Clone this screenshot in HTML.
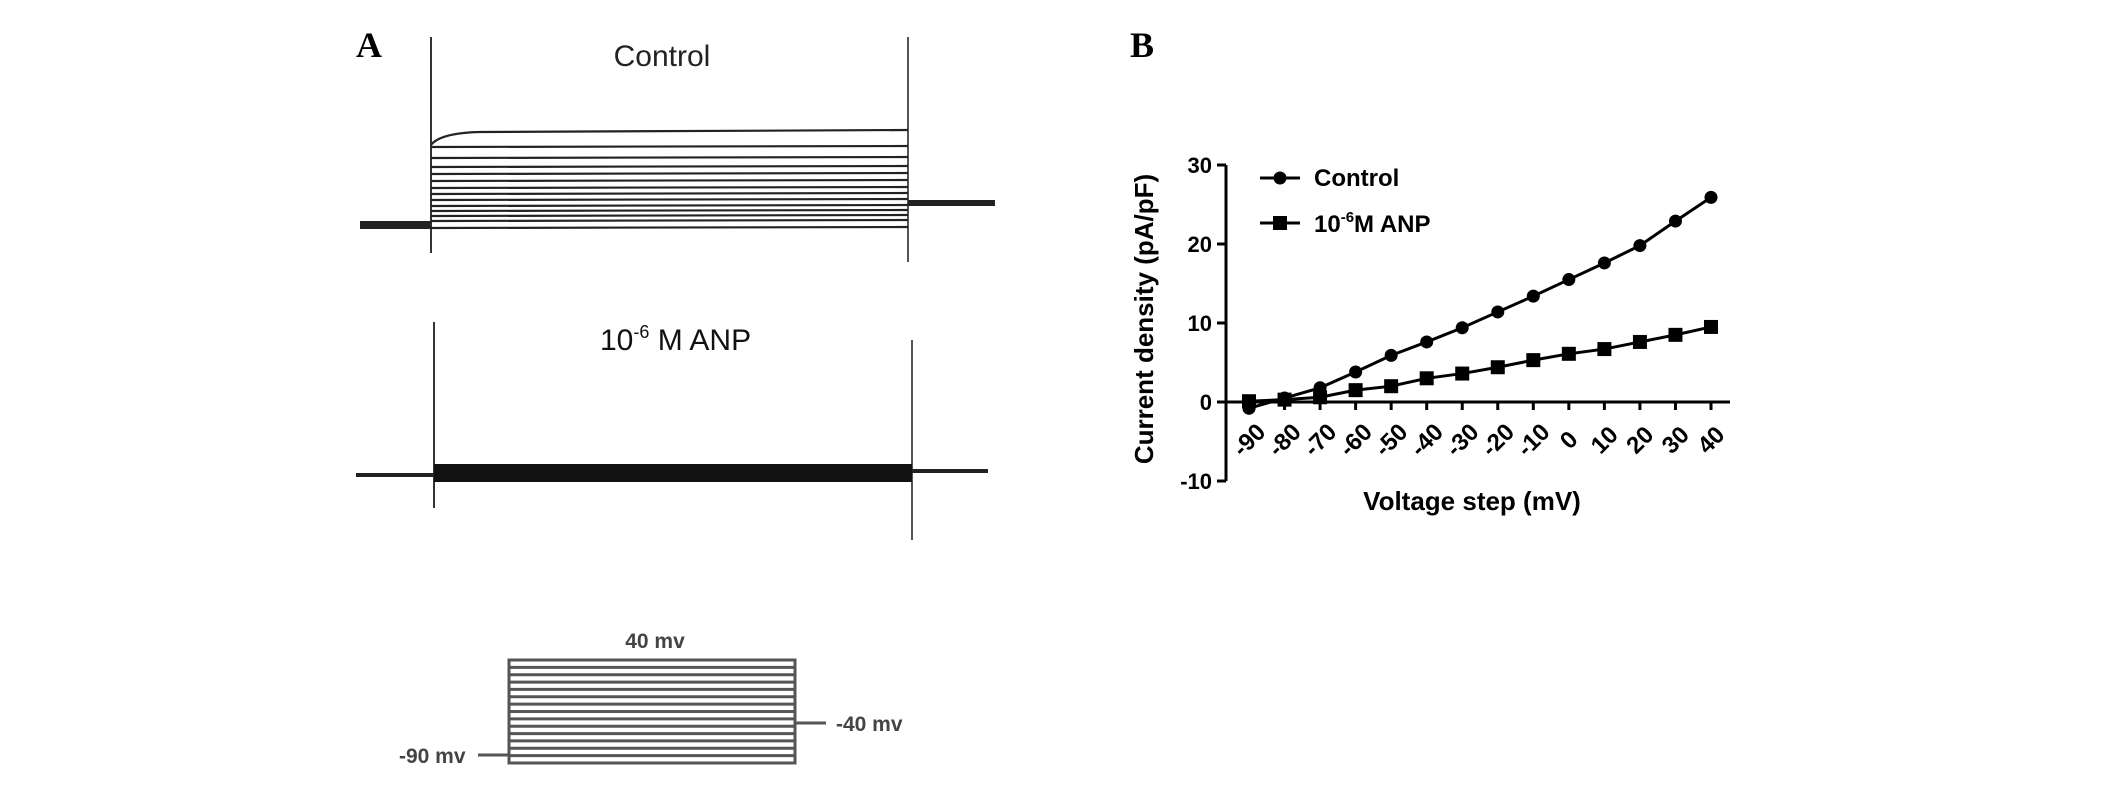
<!DOCTYPE html>
<html><head><meta charset="utf-8"><style>
html,body{margin:0;padding:0;background:#fff;}
svg{display:block;font-family:"Liberation Sans",sans-serif;}
</style></head><body>
<svg id="fig" width="2126" height="789" viewBox="0 0 2126 789" xmlns="http://www.w3.org/2000/svg">
<text x="356" y="57" font-family="Liberation Serif,serif" font-weight="bold" font-size="36">A</text>
<text x="1130" y="57" font-family="Liberation Serif,serif" font-weight="bold" font-size="36">B</text>
<g id="ctrlTraces">
<text x="662" y="66" text-anchor="middle" font-size="30" fill="#222">Control</text>
<line x1="431" y1="37" x2="431" y2="253" stroke="#333" stroke-width="2"/>
<line x1="908" y1="37" x2="908" y2="262" stroke="#555" stroke-width="2"/>
<rect x="360" y="221" width="71" height="8" fill="#222"/>
<rect x="908" y="200" width="87" height="6" fill="#222"/>
</g>
<g>
<text x="600" y="350" font-size="30" fill="#111">10<tspan font-size="18" dy="-12">-6</tspan><tspan dy="12"> M ANP</tspan></text>
<line x1="434" y1="322" x2="434" y2="508" stroke="#333" stroke-width="2"/>
<line x1="912" y1="340" x2="912" y2="540" stroke="#555" stroke-width="2"/>
<rect x="356" y="473" width="78" height="4" fill="#222"/>
<rect x="434" y="464" width="478" height="18" fill="#111"/>
<rect x="912" y="469" width="76" height="4" fill="#222"/>
</g>
<g id="proto">
<text x="655" y="648" text-anchor="middle" font-size="21" font-weight="bold" fill="#444">40 mv</text>
<rect x="509" y="660" width="286" height="103" fill="none" stroke="#555" stroke-width="3"/>
<line x1="795" y1="723" x2="826" y2="723" stroke="#555" stroke-width="3"/>
<text x="836" y="731" font-size="21" font-weight="bold" fill="#444">-40 mv</text>
<line x1="478" y1="755" x2="509" y2="755" stroke="#555" stroke-width="3"/>
<text x="399" y="763" font-size="21" font-weight="bold" fill="#444">-90 mv</text>
</g>
<g id="chart"></g>
</svg>
<script>
const voltages = [-90,-80,-70,-60,-50,-40,-30,-20,-10,0,10,20,30,40];
const controlValues = [-0.8,0.5,1.8,3.8,5.9,7.6,9.4,11.4,13.4,15.5,17.6,19.8,22.9,25.9];
const anpValues = [0.1,0.3,0.6,1.5,2.0,3.0,3.6,4.4,5.3,6.1,6.7,7.6,8.5,9.5];
const yTicks = [30,20,10,0,-10];
const xTickLabels = ["-90","-80","-70","-60","-50","-40","-30","-20","-10","0","10","20","30","40"];
const traceLevels = [130,147,158,167,174,181,188,194,200,206,211,216,221,228];

const NS="http://www.w3.org/2000/svg";
function mk(tag,attrs,parent){const e=document.createElementNS(NS,tag);for(const k in attrs)e.setAttribute(k,attrs[k]);parent.appendChild(e);return e;}
const sx=v=>1249+(v+90)*(1711-1249)/130;
const sy=v=>402-v*7.9;

const ct=document.getElementById('ctrlTraces');
traceLevels.forEach((y,i)=>{
  const d = i===0 ? `M431,145 Q440,133 480,${y+2} L908,${y}` : `M431,${y} L908,${y-1}`;
  const p=mk('path',{d:d,fill:'none',stroke:'#222','stroke-width':2.2},ct);
  
  
});
const pr=document.getElementById('proto');
for(let i=1;i<14;i++){
  const y=660+i*103/14;
  const l=mk('line',{x1:509,y1:y,x2:795,y2:y,stroke:'#555','stroke-width':3},pr);
  
  
}

const g=document.getElementById('chart');
const ya=mk('line',{x1:1226,y1:sy(30),x2:1226,y2:sy(-10),stroke:'#000','stroke-width':3},g);


const xa=mk('line',{x1:1226,y1:sy(0),x2:1730,y2:sy(0),stroke:'#000','stroke-width':3},g);


yTicks.forEach(t=>{
  mk('line',{x1:1217,y1:sy(t),x2:1226,y2:sy(t),stroke:'#000','stroke-width':3},g);
  const tx=mk('text',{x:1212,y:sy(t)+8,'text-anchor':'end','font-size':22,'font-weight':'bold'},g);
  tx.textContent=t;
  
  
});
voltages.forEach((v,i)=>{
  const x=sx(v);
  mk('line',{x1:x,y1:sy(0),x2:x,y2:sy(0)+8,stroke:'#000','stroke-width':3},g);
  const cy=sy(0)+38;
  const tx=mk('text',{x:x,y:cy+8,'text-anchor':'middle','font-size':24,'font-weight':'bold',transform:`rotate(-45 ${x} ${cy})`},g);
  tx.textContent=xTickLabels[i];
  
  
});
const yt=mk('text',{x:0,y:0,'text-anchor':'middle','font-size':26,'font-weight':'bold',transform:'translate(1153,319) rotate(-90)'},g);
yt.textContent='Current density (pA/pF)';


const xt=mk('text',{x:1472,y:510,'text-anchor':'middle','font-size':26,'font-weight':'bold'},g);
xt.textContent='Voltage step (mV)';



function series(vals,shape,name){
  const pts=voltages.map((v,i)=>sx(v)+','+sy(vals[i])).join(' ');
  const pl=mk('polyline',{points:pts,fill:'none',stroke:'#000','stroke-width':3},g);
  
  
  voltages.forEach((v,i)=>{
    let m;
    if(shape==='circle') m=mk('circle',{cx:sx(v),cy:sy(vals[i]),r:6.5,fill:'#000'},g);
    else m=mk('rect',{x:sx(v)-7,y:sy(vals[i])-7,width:14,height:14,fill:'#000'},g);
    
    
  });
}
series(controlValues,'circle','control');
series(anpValues,'square','anp');

const l1=mk('line',{x1:1260,y1:178,x2:1300,y2:178,stroke:'#000','stroke-width':3},g);


const c1=mk('circle',{cx:1280,cy:178,r:6.5,fill:'#000'},g);


const t1=mk('text',{x:1314,y:186,'font-size':24,'font-weight':'bold'},g);
t1.textContent='Control';


const l2=mk('line',{x1:1260,y1:223,x2:1300,y2:223,stroke:'#000','stroke-width':3},g);


const r2=mk('rect',{x:1273,y:216,width:14,height:14,fill:'#000'},g);


const t2=mk('text',{x:1314,y:232,'font-size':24,'font-weight':'bold'},g);
t2.innerHTML='10<tspan font-size="15" dy="-10">-6</tspan><tspan dy="10">M ANP</tspan>';


</script>
</body></html>
